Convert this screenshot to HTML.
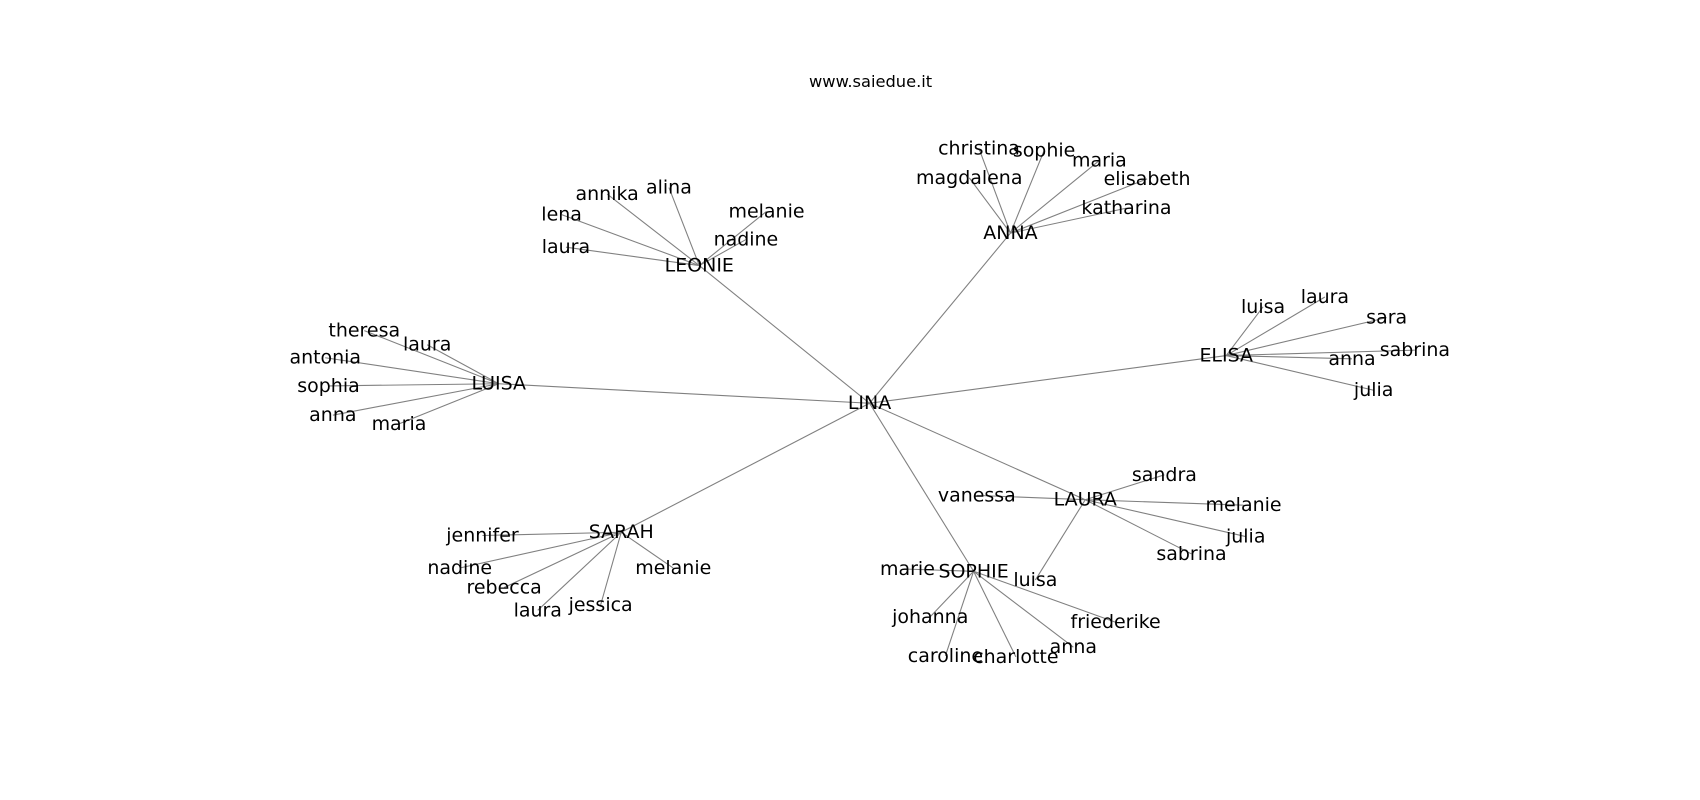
<!DOCTYPE html>
<html><head><meta charset="utf-8"><style>
html,body{margin:0;padding:0;background:#fff;width:1700px;height:800px;overflow:hidden}
svg{display:block}
text{font-family:"DejaVu Sans","Liberation Sans",sans-serif;font-size:17.5px;fill:#000;text-anchor:middle;dominant-baseline:central}
line{stroke:#808080;stroke-width:1}
</style></head><body>
<svg width="1700" height="800" viewBox="0 0 1568 738" preserveAspectRatio="none">
<g id="e"></g>
<text x="803" y="75" style="font-size:15px">www.saiedue.it</text>
<g id="t"></g>
</svg>
<script>
var data={
"LINA":[802,372,null],
"LEONIE":[645,245,"LINA"],"ANNA":[932,215,"LINA"],"ELISA":[1131,328,"LINA"],"LUISA":[460,354,"LINA"],
"SARAH":[573,491,"LINA"],"LAURA":[1001,461,"LINA"],"SOPHIE":[898,527,"LINA"]
};
var kids=[
["LEONIE","annika",560,179],["LEONIE","alina",617,173],["LEONIE","lena",518,198],["LEONIE","laura",522,228],["LEONIE","melanie",707,195],["LEONIE","nadine",688,221],
["ANNA","christina",903,137],["ANNA","sophie",963,139],["ANNA","maria",1014,148],["ANNA","magdalena",894,164],["ANNA","elisabeth",1058,165],["ANNA","katharina",1039,192],
["ELISA","luisa",1165,283],["ELISA","laura",1222,274],["ELISA","sara",1279,293],["ELISA","anna",1247,331],["ELISA","sabrina",1305,323],["ELISA","julia",1267,360],
["LUISA","theresa",336,305],["LUISA","laura",394,318],["LUISA","antonia",300,330],["LUISA","sophia",303,356],["LUISA","anna",307,383],["LUISA","maria",368,391],
["SARAH","jennifer",445,494],["SARAH","nadine",424,524],["SARAH","rebecca",465,542],["SARAH","laura",496,563],["SARAH","jessica",554,558],["SARAH","melanie",621,524],
["LAURA","sandra",1074,438],["LAURA","vanessa",901,457],["LAURA","melanie",1147,466],["LAURA","julia",1149,495],["LAURA","sabrina",1099,511],["LAURA","luisa",955,535],
["SOPHIE","marie",837,525],["SOPHIE","johanna",858,569],["SOPHIE","caroline",872,605],["SOPHIE","charlotte",937,606],["SOPHIE","anna",990,597],["SOPHIE","friederike",1029,574]
];
var NS="http://www.w3.org/2000/svg",E=document.getElementById("e"),T=document.getElementById("t");
function ln(a,b,c,d){var l=document.createElementNS(NS,"line");l.setAttribute("x1",a);l.setAttribute("y1",b);l.setAttribute("x2",c);l.setAttribute("y2",d);E.appendChild(l);}
function tx(s,x,y){var t=document.createElementNS(NS,"text");t.setAttribute("x",x);t.setAttribute("y",y);t.textContent=s;T.appendChild(t);}
for(var k in data){var d=data[k];if(d[2]){var p=data[d[2]];ln(p[0],p[1],d[0],d[1]);}tx(k,d[0],d[1]);}
kids.forEach(function(c){var p=data[c[0]];ln(p[0],p[1],c[2],c[3]);tx(c[1],c[2],c[3]);});
</script>
</body></html>
